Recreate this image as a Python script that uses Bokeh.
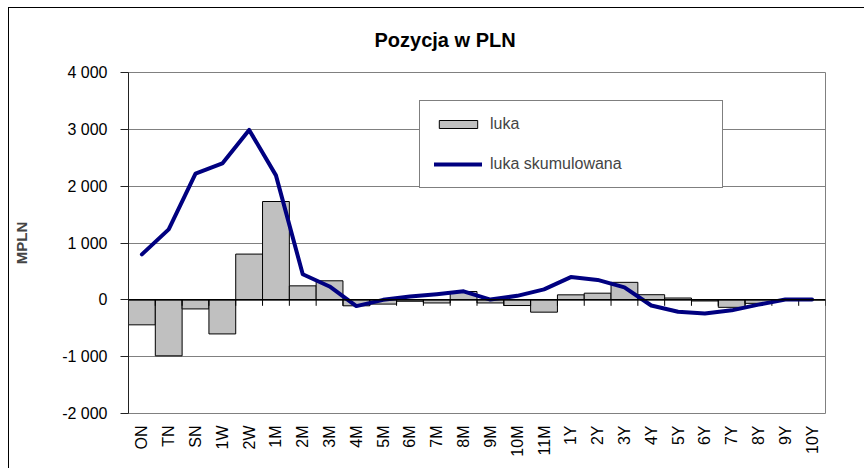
import math
from bokeh.plotting import figure
from bokeh.models import (ColumnDataSource, FactorRange, Range1d, FixedTicker,
                          Legend, LegendItem, Span)
from bokeh.embed import file_html
from bokeh.resources import INLINE

# ---------------- data ----------------
categories = ["ON", "TN", "SN", "1W", "2W", "1M", "2M", "3M", "4M", "5M", "6M",
              "7M", "8M", "9M", "10M", "11M", "1Y", "2Y", "3Y", "4Y", "5Y", "6Y",
              "7Y", "8Y", "9Y", "10Y"]
luka = [-440, -985, -160, -600, 805, 1730, 246, 335, -105, -75, -25, -55, 146,
        -55, -100, -217, 88, 117, 308, 90, 32, -20, -132, -62, -10, 0]
luka_skumulowana = [800, 1240, 2220, 2400, 2990, 2190, 450, 235, -110, 0, 60,
                    100, 150, 5, 70, 185, 400, 350, 220, -100, -210, -240,
                    -185, -85, 5, 5]

y_ticks = [-2000, -1000, 0, 1000, 2000, 3000, 4000]
y_tick_labels = ["-2 000", "-1 000", "0", "1 000", "2 000", "3 000", "4 000"]

title_text = "Pozycja  w PLN"
y_axis_label = "MPLN"
legend_labels = ["luka", "luka skumulowana"]

FONT = "Liberation Sans"

src = ColumnDataSource(dict(cat=categories, luka=luka, skum=luka_skumulowana))

p = figure(width=856, height=461,
           x_range=FactorRange(factors=categories, range_padding=0),
           y_range=Range1d(y_ticks[0], y_ticks[-1]),
           output_backend="svg", toolbar_location=None,
           title=title_text,
           min_border_left=119, min_border_right=40,
           min_border_top=64, min_border_bottom=56,
           styles={"margin-left": "8px", "margin-top": "7px",
                   "border-left": "1px solid black",
                   "border-top": "1px solid black"})

p.background_fill_color = "white"
p.border_fill_color = "white"
p.outline_line_color = "#808080"
p.outline_line_width = 1

# title
p.title.text_font = FONT
p.title.text_font_size = "20px"
p.title.text_font_style = "bold"
p.title.text_color = "black"
p.title.align = "left"
p.title.vertical_align = "top"
p.title.offset = 246
if "standoff" in p.title.properties():
    p.title.standoff = 40

# grid
p.xgrid.visible = False
p.ygrid.ticker = FixedTicker(ticks=y_ticks)
p.ygrid.grid_line_color = "#808080"
p.ygrid.grid_line_width = 1

# y axis
p.yaxis.ticker = FixedTicker(ticks=y_ticks)
p.yaxis.major_label_overrides = {t: l for t, l in zip(y_ticks, y_tick_labels)}
p.yaxis.axis_line_color = "#222222"
p.yaxis.major_tick_line_color = "#222222"
p.yaxis.major_tick_out = 8
p.yaxis.major_tick_in = 0
p.yaxis.minor_tick_line_color = None
p.yaxis.major_label_standoff = 13
p.yaxis.major_label_text_font = FONT
p.yaxis.major_label_text_font_size = "16px"
p.yaxis.major_label_text_color = "black"
p.yaxis.axis_label = y_axis_label
p.yaxis.axis_label_text_font = FONT
p.yaxis.axis_label_text_font_size = "15px"
p.yaxis.axis_label_text_font_style = "bold"
p.yaxis.axis_label_standoff = 29

# x axis
p.xaxis.axis_line_color = None
p.xaxis.major_tick_line_color = None
p.xaxis.major_tick_out = 0
p.xaxis.major_tick_in = 0
p.xaxis.major_label_orientation = math.pi / 2
p.xaxis.major_label_standoff = 12
p.xaxis.major_label_text_font = FONT
p.xaxis.major_label_text_font_size = "16px"
p.xaxis.major_label_text_color = "black"

# bars
bars = p.vbar(x="cat", top="luka", bottom=0, width=1.0, source=src,
              fill_color="#C0C0C0", line_color="black", line_width=1)

# zero line with category-boundary ticks
p.add_layout(Span(location=0, dimension="width", line_color="black",
                  line_width=1.5))
bounds = list(range(1, len(categories) + 1))
p.segment(x0=bounds, y0=[0] * len(bounds), x1=bounds,
          y1=[-105] * len(bounds), line_color="black", line_width=1)

# cumulative line
ln = p.line(x="cat", y="skum", source=src, line_color="#000080",
            line_width=4, line_join="round", line_cap="round")

legend = Legend(items=[LegendItem(label=legend_labels[0], renderers=[bars]),
                       LegendItem(label=legend_labels[1], renderers=[ln])],
                location=(291, 225),
                border_line_color="black", border_line_width=1,
                background_fill_color="white", background_fill_alpha=1,
                padding=14, spacing=22, label_height=18,
                glyph_width=48, glyph_height=10,
                label_standoff=8, label_width=218,
                label_text_font=FONT, label_text_font_size="16px")
p.add_layout(legend)

open("out.html", "w").write(file_html(p, INLINE))
